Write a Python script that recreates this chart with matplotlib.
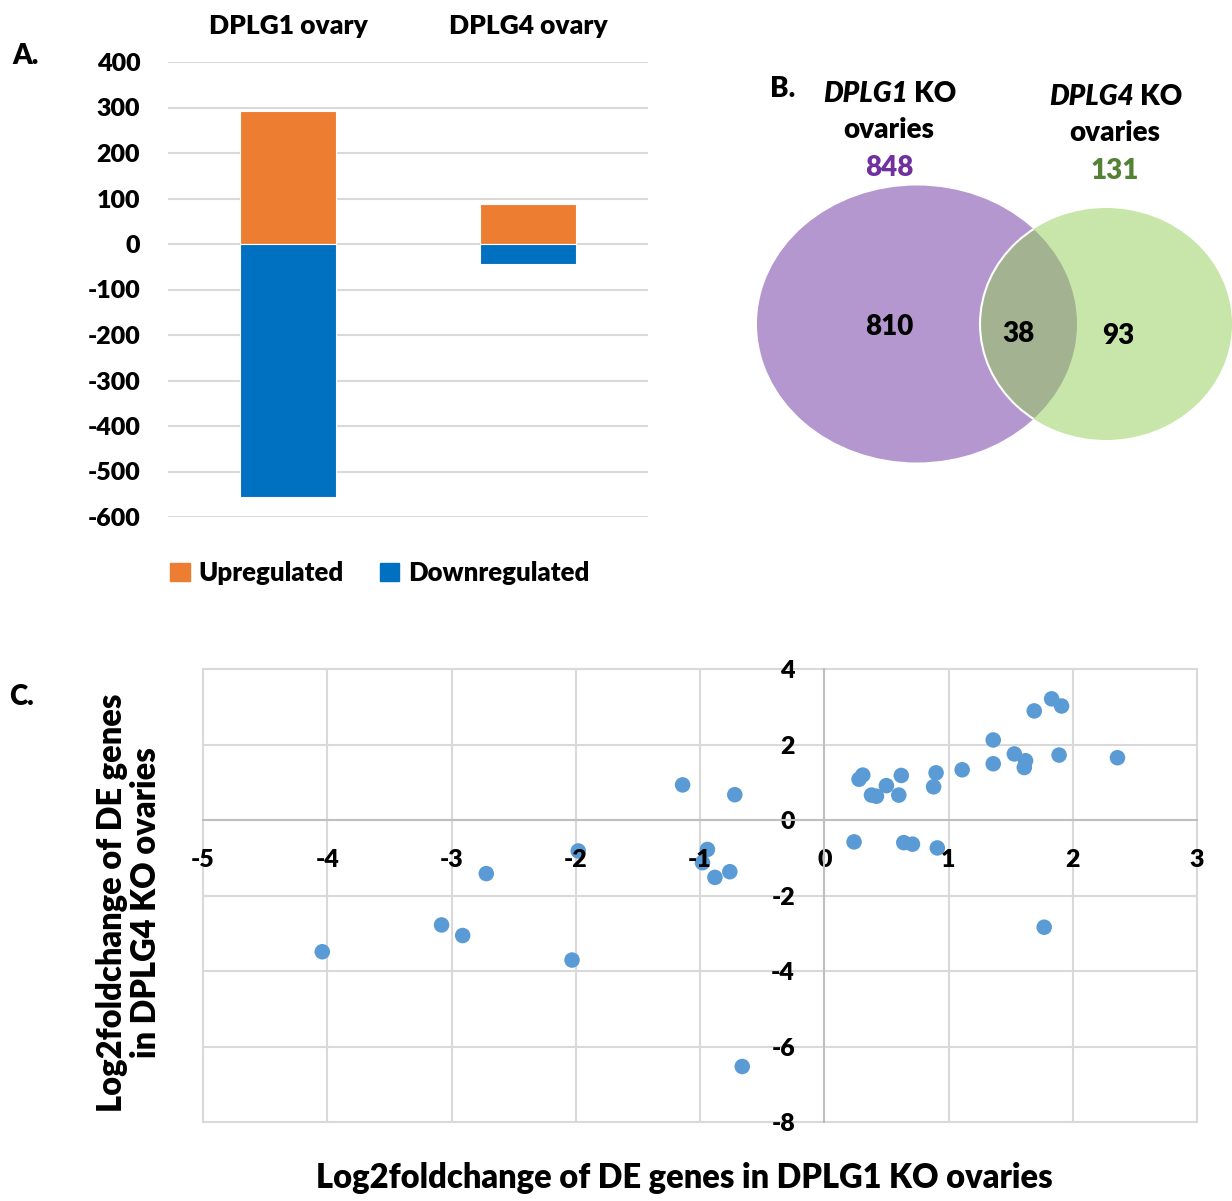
import matplotlib
matplotlib.use("Agg")
import matplotlib.pyplot as plt
from matplotlib.patches import Ellipse, Patch

plt.rcParams['font.family'] = ['Lato', 'DejaVu Sans']
WEIGHT = 800  # Lato ExtraBold is closest to the heavy Calibri Bold look
plt.rcParams['font.weight'] = WEIGHT

W, H = 1232, 1201

# Panel A data: number of DE genes
categories = ["DPLG1 ovary", "DPLG4 ovary"]
upregulated = [292, 88]
downregulated = [-556, -43]
bar_yticks = [400, 300, 200, 100, 0, -100, -200, -300, -400, -500, -600]

# Panel B data: Venn counts
dplg1_total = 848
dplg4_total = 131
only_dplg1 = 810
shared = 38
only_dplg4 = 93

# Panel C data: log2 fold changes of shared DE genes
lfc_dplg1 = [-4.04, -3.08, -2.91, -2.72, -1.98, -2.03,
             -1.14, -0.72, -0.94, -0.98, -0.88, -0.76, -0.66,
             0.24, 0.28, 0.31, 0.38, 0.42, 0.50, 0.60, 0.62, 0.64, 0.71,
             0.88, 0.90, 0.91, 1.11, 1.36, 1.36, 1.53, 1.62, 1.61,
             1.69, 1.83, 1.91, 1.89, 2.36, 1.77]
lfc_dplg4 = [-3.49, -2.78, -3.06, -1.42, -0.82, -3.71,
             0.93, 0.67, -0.78, -1.13, -1.52, -1.37, -6.53,
             -0.58, 1.08, 1.19, 0.66, 0.63, 0.91, 0.66, 1.18, -0.60, -0.64,
             0.88, 1.25, -0.74, 1.33, 2.12, 1.49, 1.75, 1.57, 1.39,
             2.89, 3.21, 3.02, 1.72, 1.65, -2.84]
scatter_xticks = [-5, -4, -3, -2, -1, 0, 1, 2, 3]
scatter_yticks = [-8, -6, -4, -2, 0, 2, 4]

ORANGE = "#ED7D31"
BLUE = "#0070C0"
GRID = "#D9D9D9"
PURPLE = "#B497CF"
GREEN = "#C8E6A9"
OVERLAP = "#A3B391"
DOT = "#5B9BD5"


def rect(left, top, right, bottom):
    """pixel box -> figure fraction [l, b, w, h]"""
    return [left / W, 1 - bottom / H, (right - left) / W, (bottom - top) / H]


def bold_ticks(ax, size):
    for lab in ax.get_xticklabels() + ax.get_yticklabels():
        lab.set_fontweight(WEIGHT)
        lab.set_fontsize(size)


fig = plt.figure(figsize=(W / 100, H / 100), dpi=100)

# ---------------- Panel A ----------------
axA = fig.add_axes(rect(168, 62, 648, 517))
x = list(range(len(categories)))
axA.bar(x, upregulated, width=0.4, color=ORANGE, edgecolor="white", linewidth=0.8, zorder=2)
axA.bar(x, downregulated, width=0.4, color=BLUE, edgecolor="white", linewidth=0.8, zorder=2)
axA.set_xlim(-0.5, 1.5)
axA.set_ylim(-600, 400)
axA.xaxis.tick_top()
axA.set_yticks(bar_yticks)
axA.set_yticklabels([str(v) for v in bar_yticks])
axA.set_xticks(x)
axA.set_xticklabels(categories)
axA.tick_params(axis='x', length=0, pad=17)
axA.tick_params(axis='y', length=0, pad=20)
axA.grid(axis='y', color=GRID, linewidth=1.5)
axA.set_axisbelow(True)
for s in axA.spines.values():
    s.set_visible(False)
bold_ticks(axA, 18)
for lab in axA.get_xticklabels():
    lab.set_fontsize(19)

fig.legend(handles=[Patch(color=ORANGE, label="Upregulated"),
                    Patch(color=BLUE, label="Downregulated")],
           loc='center', bbox_to_anchor=(380 / W, 1 - 573 / H), ncol=2,
           frameon=False, handlelength=0.75, handleheight=0.75,
           handletextpad=0.35, columnspacing=1.4,
           prop={'size': 18.5, 'weight': WEIGHT})

fig.text(26 / W, 1 - 56 / H, "A.", fontsize=20, fontweight=WEIGHT, ha='center', va='center')

# ---------------- Panel B (Venn) ----------------
axB = fig.add_axes([0, 0, 1, 1])
axB.set_xlim(0, W)
axB.set_ylim(H, 0)
axB.axis('off')
axB.patch.set_alpha(0)

purple = Ellipse((917, 324), 320, 277, facecolor=PURPLE, edgecolor='none')
green = Ellipse((1106, 324), 252, 232, facecolor=GREEN, edgecolor='none')
axB.add_patch(purple)
axB.add_patch(green)
overlap = Ellipse((1106, 324), 252, 232, facecolor=OVERLAP, edgecolor='white', linewidth=1.5)
axB.add_patch(overlap)
overlap.set_clip_path(purple)

title_kw = dict(fontsize=20, fontweight=WEIGHT, va='center')
axB.text(783, 89, "B.", fontsize=20, fontweight=WEIGHT, ha='center', va='center')
axB.text(908, 94, "DPLG1", style='italic', ha='right', **title_kw)
axB.text(914, 94, "KO", ha='left', **title_kw)
axB.text(889, 130, "ovaries", ha='center', **title_kw)
axB.text(889, 168, str(dplg1_total), fontsize=20, fontweight=WEIGHT, color="#7030A0", ha='center', va='center')
axB.text(1134, 97, "DPLG4", style='italic', ha='right', **title_kw)
axB.text(1140, 97, "KO", ha='left', **title_kw)
axB.text(1115, 133, "ovaries", ha='center', **title_kw)
axB.text(1115, 171, str(dplg4_total), fontsize=20, fontweight=WEIGHT, color="#548235", ha='center', va='center')
axB.text(889, 327, str(only_dplg1), fontsize=20, fontweight=WEIGHT, ha='center', va='center')
axB.text(1018, 334, str(shared), fontsize=20, fontweight=WEIGHT, ha='center', va='center')
axB.text(1118, 336, str(only_dplg4), fontsize=20, fontweight=WEIGHT, ha='center', va='center')

# ---------------- Panel C ----------------
axC = fig.add_axes(rect(203, 669, 1197, 1122))
axC.set_xlim(-5, 3)
axC.set_ylim(-8, 4)
for xv in scatter_xticks:
    axC.axvline(xv, color=GRID, linewidth=1.5, zorder=0, clip_on=False)
for yv in scatter_yticks:
    axC.axhline(yv, color=GRID, linewidth=1.5, zorder=0, clip_on=False)
axC.scatter(lfc_dplg1, lfc_dplg4, s=125, color=DOT, edgecolors='none', zorder=1)

axC.spines['left'].set_position(('data', 0))
axC.spines['bottom'].set_position(('data', 0))
axC.spines['top'].set_visible(False)
axC.spines['right'].set_visible(False)
for side in ('left', 'bottom'):
    axC.spines[side].set_color("#BFBFBF")
    axC.spines[side].set_linewidth(1.5)
axC.set_xticks(scatter_xticks)
axC.set_xticklabels([str(v) for v in scatter_xticks])
axC.set_yticks(scatter_yticks)
axC.set_yticklabels([str(v) for v in scatter_yticks])
axC.tick_params(axis='x', length=0, pad=21)
axC.tick_params(axis='y', length=0, pad=21)
bold_ticks(axC, 18)

fig.text(129 / W, 1 - 903 / H, "Log2foldchange of DE genes\nin DPLG4 KO ovaries",
         rotation=90, fontsize=23.5, fontweight=WEIGHT, ha='center', va='center',
         multialignment='center', linespacing=1.05)
fig.text(684 / W, 1 - 1178 / H, "Log2foldchange of DE genes in DPLG1 KO ovaries",
         fontsize=23.5, fontweight=WEIGHT, ha='center', va='center')
fig.text(22 / W, 1 - 697 / H, "C.", fontsize=20, fontweight=WEIGHT, ha='center', va='center')

fig.savefig("out.png", dpi=100)
